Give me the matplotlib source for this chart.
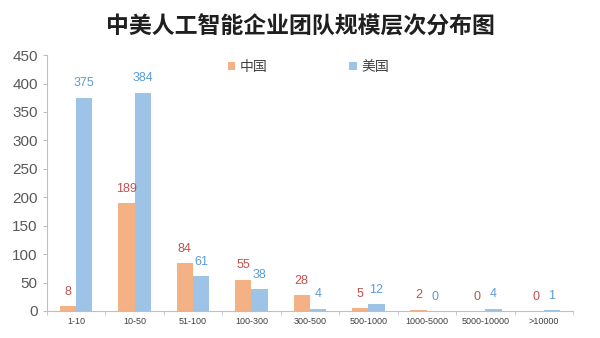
import matplotlib
matplotlib.use("Agg")
import matplotlib.pyplot as plt
import numpy as np

plt.rcParams['font.family'] = ['Noto Sans CJK SC', 'DejaVu Sans']
num_font = ['Liberation Sans', 'DejaVu Sans']

categories = ["1-10", "10-50", "51-100", "100-300", "300-500", "500-1000",
              "1000-5000", "5000-10000", ">10000"]
china = [8, 189, 84, 55, 28, 5, 2, 0, 0]
usa = [375, 384, 61, 38, 4, 12, 0, 4, 1]
y_ticks = list(range(0, 451, 50))

c_cn = "#F4B183"
c_us = "#9DC3E6"
t_cn = "#C0504D"
t_us = "#5B9BD5"

fig = plt.figure(figsize=(6.0, 3.38), dpi=100)
ax = fig.add_axes([0.078, 0.08, 0.877, 0.757])

x = np.arange(len(categories))
w = 0.28
b1 = ax.bar(x - w / 2, china, w, color=c_cn, label="中国", zorder=2)
b2 = ax.bar(x + w / 2, usa, w, color=c_us, label="美国", zorder=2)

for bars, vals, col in ((b1, china, t_cn), (b2, usa, t_us)):
    for rect, v in zip(bars, vals):
        ax.annotate(str(v), (rect.get_x() + rect.get_width() / 2, v),
                    xytext=(0, 6), textcoords="offset points",
                    ha="center", va="bottom", fontsize=9, color=col,
                    family=num_font)

ax.set_xlim(-0.5, len(categories) - 0.5)
ax.set_ylim(0, 450)
ax.set_yticks(y_ticks)
ax.set_yticklabels([str(v) for v in y_ticks], family=num_font, fontsize=11,
                   color="#595959")
ax.tick_params(axis="y", length=3, direction="out", color="#BFBFBF")
ax.set_xticks(x)
ax.set_xticklabels(categories, fontsize=6.5, color="#404040", family=num_font)
ax.tick_params(axis="x", length=0, pad=4)
ax.set_xticks(np.arange(-0.5, len(categories), 1), minor=True)
ax.tick_params(axis="x", which="minor", length=3, color="#BFBFBF")

for s in ["top", "right"]:
    ax.spines[s].set_visible(False)
ax.spines["left"].set_color("#BFBFBF")
ax.spines["bottom"].set_color("#BFBFBF")

leg = ax.legend(loc="center", bbox_to_anchor=(0.497, 0.955), ncol=2,
                frameon=False, fontsize=10, handlelength=0.55, handleheight=0.55,
                columnspacing=5.9, handletextpad=0.3)
for t in leg.get_texts():
    t.set_color("#404040")

fig.text(0.5, 0.92, "中美人工智能企业团队规模层次分布图", ha="center", va="center",
         fontsize=16.5, fontweight="bold", color="#1F1F1F")

fig.savefig("out.png", dpi=100)
